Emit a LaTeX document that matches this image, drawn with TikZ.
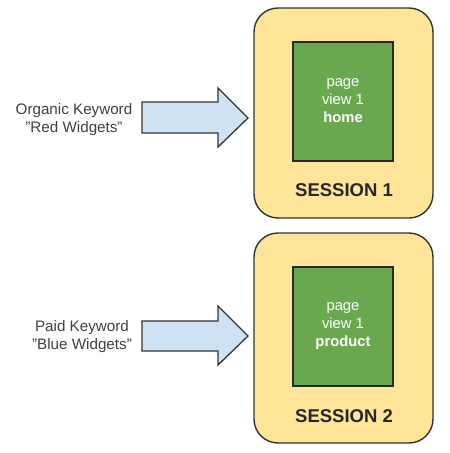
\documentclass[tikz,border=0pt]{standalone}
\usepackage{fontspec}
\setmainfont{Liberation Sans}
\usetikzlibrary{shapes.arrows}
\definecolor{sessfill}{HTML}{FFE599}
\definecolor{pagefill}{HTML}{6AA84F}
\definecolor{arrowfill}{HTML}{CFE2F3}
\definecolor{edge}{HTML}{333333}
\definecolor{labtext}{HTML}{404040}
\newcommand{\sq}{\symbol{34}}
\begin{document}
\begin{tikzpicture}[x=1pt,y=-1pt,
  sessbox/.style={draw=edge,line width=1.4pt,fill=sessfill,rounded corners=24pt},
  pagebox/.style={draw=edge!80!black,line width=1.4pt,fill=pagefill},
  bigarrow/.style={draw=edge,line width=1.3pt,fill=arrowfill,line join=miter},
  labelnode/.style={text=labtext,font=\fontsize{15.2}{18}\selectfont,align=center},
  pagetext/.style={text=white,font=\fontsize{14.8}{18}\selectfont,align=center},
  sesstext/.style={text=black!85,font=\fontsize{18.5}{20}\selectfont\bfseries}]
\useasboundingbox (0,0) rectangle (450,453);
\fill[white] (0,0) rectangle (450,453);
% Session 1
\draw[sessbox] (254,8) rectangle (433,218);
\draw[pagebox] (293,42) rectangle (393,161);
\node[pagetext] (p1) at (343,101) {page\\view 1\\\textbf{home}};
\node[sesstext] (s1) at (344,190) {SESSION 1};
% Session 2
\draw[sessbox] (254,233) rectangle (433,443);
\draw[pagebox] (293,267) rectangle (393,386);
\node[pagetext] (p2) at (343,326) {page\\view 1\\\textbf{product}};
\node[sesstext] (s2) at (344,416) {SESSION 2};
% Arrows
\draw[bigarrow] (142,102) -- (218,102) -- (218,88) -- (248,118) -- (218,147) -- (218,133) -- (142,133) -- cycle;
\draw[bigarrow] (142,321) -- (218,321) -- (218,306) -- (248,336) -- (218,365) -- (218,351) -- (142,351) -- cycle;
% Labels
\node[labelnode] (l1) at (74,120) {Organic Keyword\\\sq Red Widgets\sq};
\node[labelnode] (l2) at (82,337) {Paid Keyword\\\sq Blue Widgets\sq};
\end{tikzpicture}
\end{document}
